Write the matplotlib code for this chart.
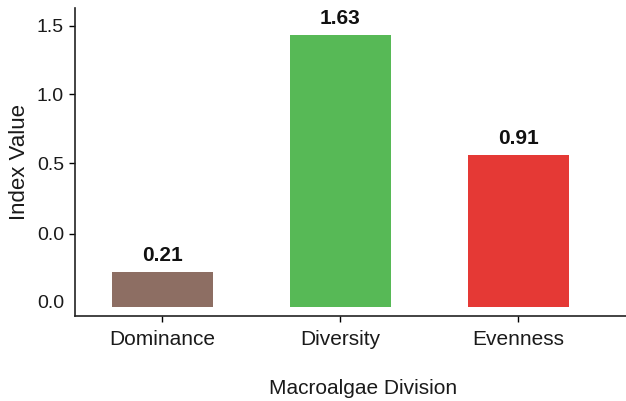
import matplotlib.pyplot as plt

plt.rcParams['font.family'] = ['Liberation Sans', 'DejaVu Sans']

# data
categories = ['Dominance', 'Diversity', 'Evenness']
values = [0.21, 1.63, 0.91]
colors = ['#8d6e63', '#57b956', '#e53935']
ytick_labels = ['1.5', '1.0', '0.5', '0.0', '0.0']

fig = plt.figure(figsize=(6.26, 4.01), dpi=100)
ax = fig.add_axes([0.12, 0.212, 0.88, 0.768])

x = range(len(categories))
bars = ax.bar(x, values, width=0.57, color=colors)

for b, v in zip(bars, values):
    ax.annotate(f'{v:.2f}', (b.get_x() + b.get_width() / 2, b.get_height()),
                xytext=(0, 5), textcoords='offset points',
                ha='center', va='bottom', fontsize=15, fontweight='bold',
                color='#111111')

ax.set_xlim(-0.49, 2.605)
ax.set_ylim(-0.054, 1.79)

# tick labels in the source do not follow the bar scale
ax.set_yticks([1.683, 1.275, 0.862, 0.437, 0.03])
ax.set_yticklabels(ytick_labels)
ax.yaxis.get_major_ticks()[-1].tick1line.set_visible(False)

ax.set_xticks(list(x))
ax.set_xticklabels(categories)
ax.tick_params(axis='both', labelsize=14, length=4, width=1, pad=4,
               labelcolor='#1a1a1a')
ax.tick_params(axis='x', labelsize=15, pad=6)

ax.set_xlabel('Macroalgae Division', fontsize=15, labelpad=22, color='#1a1a1a')
ax.xaxis.label.set_x(0.523)
ax.set_ylabel('Index Value', fontsize=16, labelpad=5, color='#1a1a1a')

for s in ['top', 'right']:
    ax.spines[s].set_visible(False)
for s in ['left', 'bottom']:
    ax.spines[s].set_linewidth(1.2)
    ax.spines[s].set_color('#222222')

fig.savefig('out.png', dpi=100)
